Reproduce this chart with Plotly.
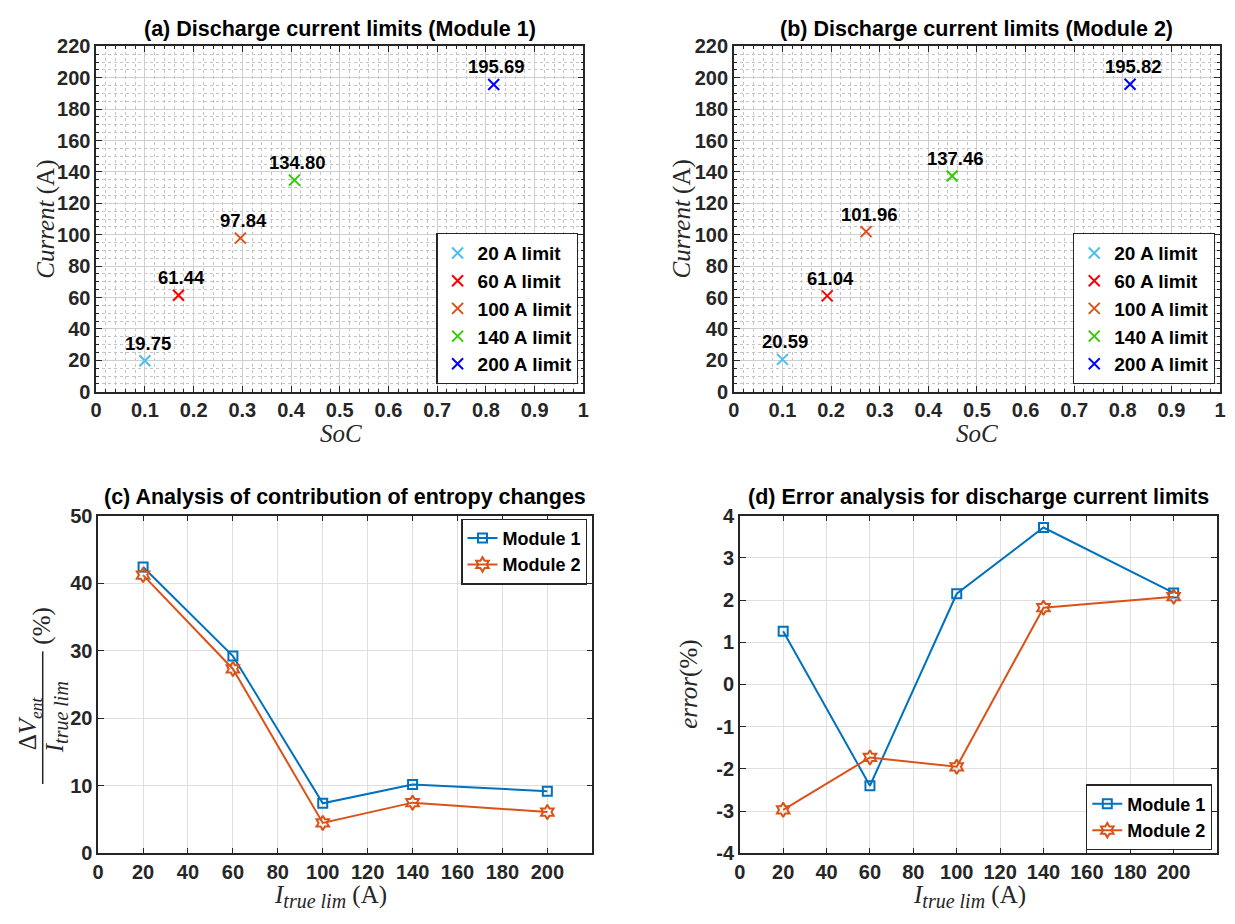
import plotly.graph_objects as go

# page has an 8px body margin; keep the figure inside the 1235x924 window
OFF = 8
FW, FH = 1235 - 2 * OFF, 924 - 2 * OFF

# ---------------- data ----------------
limit_names = ["20 A limit", "60 A limit", "100 A limit", "140 A limit", "200 A limit"]
limit_colors = ["#4DBEEE", "#FF0000", "#D95319", "#33CC00", "#0000FF"]

soc_m1 = [0.100, 0.169, 0.296, 0.407, 0.816]
cur_m1 = [19.75, 61.44, 97.84, 134.80, 195.69]

soc_m2 = [0.100, 0.192, 0.272, 0.449, 0.815]
cur_m2 = [20.59, 61.04, 101.96, 137.46, 195.82]

i_true = [20, 60, 100, 140, 200]
entropy_m1 = [42.4, 29.2, 7.4, 10.2, 9.2]
entropy_m2 = [41.2, 27.3, 4.5, 7.5, 6.1]
error_m1 = [1.26, -2.40, 2.15, 3.72, 2.17]
error_m2 = [-2.97, -1.73, -1.95, 1.82, 2.08]

x_ticks_bottom = [0, 20, 40, 60, 80, 100, 120, 140, 160, 180, 200]
error_ticks = [-4, -3, -2, -1, 0, 1, 2, 3, 4]

# ---------------- helpers ----------------
def px_x(p):
    return (p - OFF) / FW

def px_y(p):
    return 1 - (p - OFF) / FH

AX = "#262626"
SANS = "Liberation Sans"
SERIF = "Liberation Serif"
TICKFONT = dict(family=SANS, size=20, color=AX, weight="bold")
TITLEFONT = dict(family=SANS, size=21.5, color="black")

fig = go.Figure()

dom = {
    1: dict(x=(91, 583), y=(36, 390)),
    2: dict(x=(735, 1226), y=(36, 390)),
    3: dict(x=(93, 592), y=(517, 863)),
    4: dict(x=(741, 1223), y=(517, 863)),
}

def axname(i, a):
    return f"{a}axis" if i == 1 else f"{a}axis{i}"

def ref(i, a):
    return a if i == 1 else f"{a}{i}"

# ---- top scatter panels ----
for i, (socs, curs) in zip([1, 2], [(soc_m1, cur_m1), (soc_m2, cur_m2)]):
    for k in range(5):
        fig.add_trace(go.Scatter(
            x=[socs[k]], y=[curs[k]], mode="markers", name=limit_names[k],
            marker=dict(symbol="x-thin", size=11, color=limit_colors[k],
                        line=dict(width=2, color=limit_colors[k])),
            xaxis=ref(i, "x"), yaxis=ref(i, "y"),
            legend="legend" if i == 1 else "legend2",
        ))
        fig.add_annotation(
            x=socs[k], y=curs[k], xref=ref(i, "x"), yref=ref(i, "y"),
            text=f"<b>{curs[k]:.2f}</b>", showarrow=False, yanchor="bottom",
            xshift=3, yshift=5,
            font=dict(family=SANS, size=18.5, color="black"))

# ---- bottom line panels ----
line_sets = [(3, entropy_m1, entropy_m2, "legend3"), (4, error_m1, error_m2, "legend4")]
for i, y1, y2, lg in line_sets:
    fig.add_trace(go.Scatter(
        x=i_true, y=y1, mode="lines+markers", name="Module 1",
        line=dict(color="#0072BD", width=2),
        marker=dict(symbol="square-open", size=9, color="#0072BD", line=dict(width=2)),
        xaxis=ref(i, "x"), yaxis=ref(i, "y"), legend=lg))
    fig.add_trace(go.Scatter(
        x=i_true, y=y2, mode="lines+markers", name="Module 2",
        line=dict(color="#D95319", width=2),
        marker=dict(symbol="hexagram-open", size=11, color="#D95319", line=dict(width=2)),
        xaxis=ref(i, "x"), yaxis=ref(i, "y"), legend=lg))

layout = dict(
    width=FW, height=FH, margin=dict(l=0, r=0, t=0, b=0),
    paper_bgcolor="white", plot_bgcolor="white", showlegend=True,
)

common = dict(showline=True, linecolor=AX, linewidth=1.5, mirror="ticks",
              ticks="inside", tickcolor=AX, ticklen=6, tickwidth=1.2,
              tickfont=TICKFONT, zeroline=False)

for i in [1, 2]:
    d = dom[i]
    layout[axname(i, "x")] = dict(
        domain=[px_x(d["x"][0]), px_x(d["x"][1])], range=[0, 1], dtick=0.1,
        tick0=0, showgrid=True, gridcolor="#CFCFCF", gridwidth=1,
        minor=dict(dtick=0.02, showgrid=True, gridcolor="#C4C4C4", griddash="dot",
                   gridwidth=1, ticks="inside", ticklen=3, tickcolor=AX),
        anchor=ref(i, "y"), **common)
    layout[axname(i, "y")] = dict(
        domain=[px_y(d["y"][1]), px_y(d["y"][0])], range=[0, 220], dtick=20,
        tick0=0, showgrid=True, gridcolor="#CFCFCF", gridwidth=1,
        minor=dict(dtick=5, showgrid=True, gridcolor="#C4C4C4", griddash="dot",
                   gridwidth=1, ticks="inside", ticklen=3, tickcolor=AX),
        anchor=ref(i, "x"), **common)

for i in [3, 4]:
    d = dom[i]
    layout[axname(i, "x")] = dict(
        domain=[px_x(d["x"][0]), px_x(d["x"][1])], range=[0, 220],
        tickvals=x_ticks_bottom,
        showgrid=True, gridcolor="#DFDFDF", gridwidth=1,
        anchor=ref(i, "y"), **common)

layout[axname(3, "y")] = dict(
    domain=[px_y(dom[3]["y"][1]), px_y(dom[3]["y"][0])], range=[0, 50], dtick=10,
    showgrid=True, gridcolor="#DFDFDF", gridwidth=1, anchor="x3", **common)
layout[axname(4, "y")] = dict(
    domain=[px_y(dom[4]["y"][1]), px_y(dom[4]["y"][0])], range=[-4, 4],
    tickvals=error_ticks, ticktext=[str(v) for v in error_ticks],
    showgrid=True, gridcolor="#DFDFDF", gridwidth=1, anchor="x4", **common)

leg_common = dict(bgcolor="white", bordercolor="#262626", borderwidth=1.2,
                  xref="paper", yref="paper", itemwidth=30)
LEGFONT_TOP = dict(family=SANS, size=19, color="black", weight="bold")
LEGFONT_BOT = dict(family=SANS, size=18, color="black", weight="bold")
layout["legend"] = dict(x=px_x(578), y=px_y(382), xanchor="right", yanchor="bottom",
                        font=LEGFONT_TOP, **leg_common)
layout["legend2"] = dict(x=px_x(1221), y=px_y(382), xanchor="right", yanchor="bottom",
                         font=LEGFONT_TOP, **leg_common)
layout["legend3"] = dict(x=px_x(587), y=px_y(520), xanchor="right", yanchor="top",
                         font=LEGFONT_BOT, **leg_common)
layout["legend4"] = dict(x=px_x(1218), y=px_y(860), xanchor="right", yanchor="bottom",
                         font=LEGFONT_BOT, **leg_common)

fig.update_layout(**layout)

# ---- titles ----
titles = [
    ("<b>(a) Discharge current limits (Module 1)</b>", (91 + 583) / 2, 18),
    ("<b>(b) Discharge current limits (Module 2)</b>", (735 + 1226) / 2, 18),
    ("<b>(c) Analysis of contribution of entropy changes</b>", (93 + 592) / 2, 498),
    ("<b>(d) Error analysis for discharge current limits</b>", (741 + 1223) / 2, 498),
]
for t, cx, cy in titles:
    fig.add_annotation(text=t, x=px_x(cx), y=px_y(cy), xref="paper", yref="paper",
                       showarrow=False, xanchor="center", yanchor="middle", font=TITLEFONT)

LBL = dict(family=SERIF, size=25, color=AX)
SUB = '<sub><span style="font-size:20px"><i>true lim</i></span></sub>'
axis_labels = [
    ("<i>Current</i> (A)", 40, 213, -90),
    ("<i>Current</i> (A)", 683, 213, -90),
    ("<i>SoC</i>", 338, 433, 0),
    ("<i>SoC</i>", 981, 433, 0),
    ("<i>I</i>" + SUB + " (A)", 328, 907, 0),
    ("<i>I</i>" + SUB + " (A)", 973, 907, 0),
    ("<i>error</i>(%)", 690, 690, -90),
]
for t, cx, cy, ang in axis_labels:
    fig.add_annotation(text=t, x=px_x(cx), y=px_y(cy), xref="paper", yref="paper",
                       showarrow=False, xanchor="center", yanchor="middle",
                       textangle=ang, font=LBL)

# fraction label for panel (c)
fig.add_annotation(text="Δ<i>V</i><sub><i>ent</i></sub>", x=px_x(24), y=px_y(730),
                   xref="paper", yref="paper", showarrow=False, textangle=-90,
                   xanchor="center", yanchor="middle", font=LBL)
fig.add_annotation(text="<i>I</i>" + SUB, x=px_x(51), y=px_y(724),
                   xref="paper", yref="paper", showarrow=False, textangle=-90,
                   xanchor="center", yanchor="middle", font=LBL)
fig.add_shape(type="line", xref="paper", yref="paper",
              x0=px_x(37), x1=px_x(37), y0=px_y(656), y1=px_y(792),
              line=dict(color=AX, width=1.5))
fig.add_annotation(text="(%)", x=px_x(36), y=px_y(630),
                   xref="paper", yref="paper", showarrow=False, textangle=-90,
                   xanchor="center", yanchor="middle", font=LBL)

fig.write_html("out.html")
